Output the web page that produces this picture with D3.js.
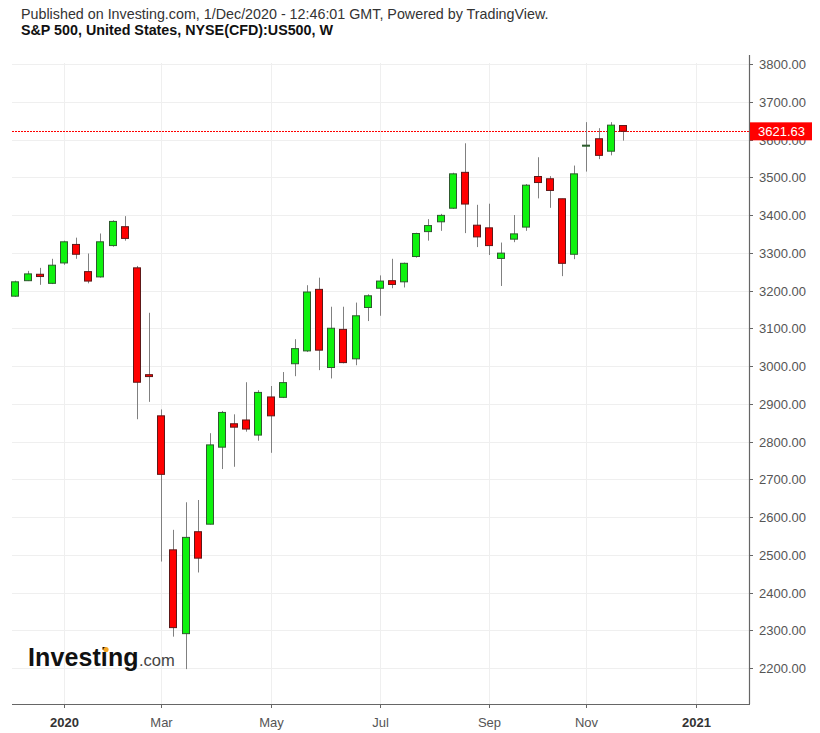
<!DOCTYPE html>
<html>
<head>
<meta charset="utf-8">
<script src="https://cdn.jsdelivr.net/npm/d3@7"></script>
<style>
  html, body { margin: 0; padding: 0; background: #fff; }
  svg { display: block; }
  text { font-family: "Liberation Sans", Arial, sans-serif; }
</style>
</head>
<body>
<svg id="chart" width="820" height="733"></svg>
<script>
// ---- Data (weekly bars, dated by Monday) ----
const dates = ["2019-12-16","2019-12-23","2019-12-30","2020-01-06","2020-01-13","2020-01-20","2020-01-27",
  "2020-02-03","2020-02-10","2020-02-17","2020-02-24","2020-03-02","2020-03-09","2020-03-16","2020-03-23",
  "2020-03-30","2020-04-06","2020-04-13","2020-04-20","2020-04-27","2020-05-04","2020-05-11","2020-05-18",
  "2020-05-25","2020-06-01","2020-06-08","2020-06-15","2020-06-22","2020-06-29","2020-07-06","2020-07-13",
  "2020-07-20","2020-07-27","2020-08-03","2020-08-10","2020-08-17","2020-08-24","2020-08-31","2020-09-07",
  "2020-09-14","2020-09-21","2020-09-28","2020-10-05","2020-10-12","2020-10-19","2020-10-26","2020-11-02",
  "2020-11-09","2020-11-16","2020-11-23","2020-11-30"];
const opens  = [3185,3226,3243,3219,3273,3322,3250,3236,3319,3369,3260,2977,2868,2513,2291,2561,2581,2785,2847,2857,
  2817,2918,2917,3006,3040,3203,2996,3097,3019,3155,3206,3226,3223,3290,3356,3382,3418,3513,3373,3366,
  3285,3336,3368,3502,3496,3443,3296,3583,3602,3569,3637];
const highs  = [3226,3252,3260,3284,3332,3340,3298,3351,3386,3397,3265,3141,2885,2566,2639,2645,2822,2881,2872,2957,
  2936,2947,2984,3071,3214,3234,3157,3157,3168,3190,3240,3284,3274,3353,3389,3403,3512,3590,3427,3430,
  3327,3400,3482,3553,3503,3443,3531,3646,3630,3646,3637];
const lows   = [3183,3225,3215,3217,3268,3284,3219,3234,3316,3332,2859,2905,2482,2283,2197,2453,2580,2727,2733,2826,
  2802,2770,2915,2973,3037,2989,2967,3007,3002,3119,3133,3206,3208,3287,3332,3358,3416,3352,3315,3294,
  3212,3328,3358,3444,3419,3238,3283,3515,3548,3558,3597];
const closes = [3223,3244,3237,3267,3329,3296,3225,3329,3383,3338,2957,2972,2713,2307,2546,2491,2791,2877,2838,2833,
  2930,2868,2956,3046,3196,3042,3100,3009,3133,3186,3225,3216,3272,3351,3372,3399,3509,3429,3342,3319,
  3299,3350,3479,3486,3465,3272,3509,3585,3558,3638,3621.63];
const lastPrice = 3621.63;

// Axis ticks
const yTickValues = [2200,2300,2400,2500,2600,2700,2800,2900,3000,3100,3200,3300,3400,3500,3600,3700,3800];
const xTickDates  = ["2020-01-13","2020-03-09","2020-05-11","2020-07-13","2020-09-14","2020-11-09","2021-01-11"];
const xTickLabels = ["2020","Mar","May","Jul","Sep","Nov","2021"];
const xTickBold   = [true,false,false,false,false,false,true];

const titleLine1 = "Published on Investing.com, 1/Dec/2020 - 12:46:01 GMT, Powered by TradingView.";
const titleLine2 = "S&P 500, United States, NYSE(CFD):US500, W";

// ---- Build ----
const parse = d3.utcParse("%Y-%m-%d");
const bars = dates.map((d, i) => ({date: parse(d), o: opens[i], h: highs[i], l: lows[i], c: closes[i]}));

const plotLeft = 12, plotRight = 749, plotTop = 63, plotBottom = 704;

const x = d3.scaleUtc()
  .domain([parse("2020-01-13"), parse("2021-01-11")])
  .range([64, 695.8]);
const y = d3.scaleLinear().domain([2200, 3800]).range([668, 64]);

const svg = d3.select("#chart");

// Header
svg.append("text").attr("x", 21).attr("y", 19)
  .attr("font-size", 14.3).attr("fill", "#333").text(titleLine1);
svg.append("text").attr("x", 21).attr("y", 35)
  .attr("font-size", 14.3).attr("font-weight", "bold").attr("fill", "#111").text(titleLine2);

// Grid
const grid = svg.append("g");
grid.selectAll("line.h").data(yTickValues).join("line")
  .attr("x1", plotLeft).attr("x2", plotRight)
  .attr("y1", d => Math.round(y(d)) + 0.5).attr("y2", d => Math.round(y(d)) + 0.5)
  .attr("stroke", "#efefef").attr("stroke-width", 1);
grid.selectAll("line.v").data(xTickDates).join("line")
  .attr("x1", d => Math.round(x(parse(d))) + 0.5).attr("x2", d => Math.round(x(parse(d))) + 0.5)
  .attr("y1", plotTop).attr("y2", plotBottom)
  .attr("stroke", "#efefef").attr("stroke-width", 1);

// Logo
const logo = svg.append("g");
logo.append("text").attr("x", 28).attr("y", 666)
  .attr("font-size", 25).attr("font-weight", "bold").attr("fill", "#111")
  .attr("letter-spacing", 0.1)
  .text("Investing");
logo.append("text").attr("x", 139).attr("y", 666)
  .attr("font-size", 16.5).attr("fill", "#444").text(".com");
logo.append("circle").attr("cx", 106).attr("cy", 649.5).attr("r", 2.6).attr("fill", "#f5a623");

// Last price dashed line
svg.append("line")
  .attr("x1", plotLeft).attr("x2", plotRight)
  .attr("y1", Math.round(y(lastPrice)) + 0.5).attr("y2", Math.round(y(lastPrice)) + 0.5)
  .attr("stroke", "#ff0000").attr("stroke-width", 1).attr("stroke-dasharray", "2,1");

// Candles
const bodyW = 8;
const candles = svg.append("g").selectAll("g").data(bars).join("g");
candles.append("line")
  .attr("x1", d => Math.round(x(d.date)) + 0.5).attr("x2", d => Math.round(x(d.date)) + 0.5)
  .attr("y1", d => y(d.h)).attr("y2", d => y(d.l))
  .attr("stroke", "#808080").attr("stroke-width", 1);
candles.append("rect")
  .attr("x", d => Math.round(x(d.date)) - bodyW / 2 + 0.5)
  .attr("y", d => y(Math.max(d.o, d.c)))
  .attr("width", bodyW - 1)
  .attr("height", d => Math.max(1, Math.abs(y(d.o) - y(d.c))))
  .attr("fill", d => d.c >= d.o ? "#0ef20e" : "#ff0000")
  .attr("stroke", d => d.c >= d.o ? "#2e5a2e" : "#5e1818")
  .attr("stroke-width", 1);

// Right axis
const yAxis = svg.append("g");
yAxis.append("line").attr("x1", plotRight + 0.5).attr("x2", plotRight + 0.5)
  .attr("y1", plotTop - 8).attr("y2", plotBottom)
  .attr("stroke", "#666").attr("stroke-width", 1.2);
const yt = yAxis.selectAll("g.t").data(yTickValues).join("g")
  .attr("transform", d => `translate(0,${Math.round(y(d)) + 0.5})`);
yt.append("line").attr("x1", plotRight).attr("x2", plotRight + 4).attr("stroke", "#666");
yt.append("text").attr("x", 759).attr("dy", "0.35em")
  .attr("font-size", 13).attr("fill", "#555")
  .text(d => d3.format(".2f")(d));

// Last price label (covers the axis label beneath it, as in the reference)
const lp = svg.append("g").attr("transform", `translate(0,${y(lastPrice)})`);
lp.append("rect").attr("x", 750).attr("y", -9).attr("width", 62).attr("height", 18).attr("fill", "#ff0000");
lp.append("text").attr("x", 758).attr("dy", "0.35em").attr("font-size", 13).attr("fill", "#fff")
  .text(d3.format(".2f")(lastPrice));

// Bottom axis
const xAxis = svg.append("g");
xAxis.append("line").attr("x1", plotLeft).attr("x2", plotRight + 1)
  .attr("y1", plotBottom + 0.5).attr("y2", plotBottom + 0.5)
  .attr("stroke", "#666").attr("stroke-width", 1.2);
const xt = xAxis.selectAll("g.t").data(xTickDates).join("g")
  .attr("transform", d => `translate(${Math.round(x(parse(d))) + 0.5},0)`);
xt.append("line").attr("y1", plotBottom).attr("y2", plotBottom + 4).attr("stroke", "#666");
xt.append("text").attr("y", 726.5).attr("text-anchor", "middle")
  .attr("font-size", 13)
  .attr("font-weight", (d, i) => xTickBold[i] ? "bold" : "normal")
  .attr("fill", (d, i) => xTickBold[i] ? "#333" : "#555")
  .text((d, i) => xTickLabels[i]);
</script>
</body>
</html>
